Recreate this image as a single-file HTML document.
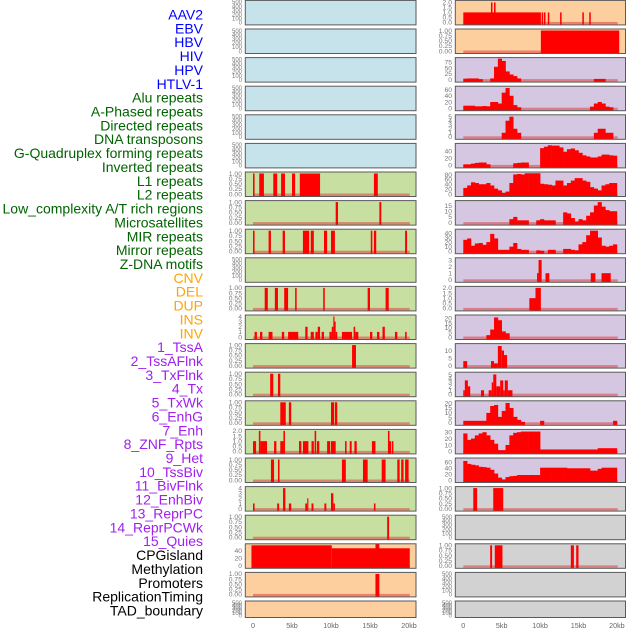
<!DOCTYPE html>
<html><head><meta charset="utf-8">
<style>
html,body{margin:0;padding:0;background:#fff;}
svg{display:block;font-family:"Liberation Sans",sans-serif;}
</style></head>
<body>
<svg id="chart" width="630" height="630" viewBox="0 0 630 630" xmlns="http://www.w3.org/2000/svg"></svg>
<script>
const trackLabels = ["AAV2","EBV","HBV","HIV","HPV","HTLV-1","Alu repeats","A-Phased repeats","Directed repeats","DNA transposons","G-Quadruplex forming repeats","Inverted repeats","L1 repeats","L2 repeats","Low_complexity A/T rich regions","Microsatellites","MIR repeats","Mirror repeats","Z-DNA motifs","CNV","DEL","DUP","INS","INV","1_TssA","2_TssAFlnk","3_TxFlnk","4_Tx","5_TxWk","6_EnhG","7_Enh","8_ZNF_Rpts","9_Het","10_TssBiv","11_BivFlnk","12_EnhBiv","13_ReprPC","14_ReprPCWk","15_Quies","CPGisland","Methylation","Promoters","ReplicationTiming","TAD_boundary"];
const labelGroupSizes = [6,13,5,15,5];
const xTickValues = [0,5,10,15,20];
const xTickLabels = ["0","5kb","10kb","15kb","20kb"];
const emptyTicks = [0,100,200,300,400,500];

const leftRow6 = [[0,0.2,1],[0.8,1.4,1],[2.6,3.1,1],[3.6,4.1,1],[5.0,5.4,1],[6.0,8.6,1],[15.5,16.0,1]];
const leftRow7 = [[10.6,10.9,1],[16.2,16.45,1]];
const leftRow8 = [[0,0.2,1],[2.0,2.3,1],[3.8,4.1,1],[6.4,7.2,1],[7.4,7.8,1],[9.1,9.5,1],[10.0,10.5,1],[15.1,15.3,1],[15.5,15.8,1],[19.5,19.75,1]];
const leftRow10 = [[1.5,1.9,1],[2.8,3.2,1],[4.0,4.5,1],[5.4,5.6,1],[9.0,9.2,1],[14.7,15.0,1],[17.0,17.4,1]];
const leftRow11 = [[0.2,0.5,1],[0.9,1.2,1],[2.0,2.5,1],[3.7,4.0,1],[4.5,5.8,1],[6.7,7.0,2],[7.4,7.8,1],[8.0,8.3,1],[8.3,8.6,2],[8.8,9.1,1],[9.8,10.1,1],[10.1,10.3,2],[10.3,10.45,4],[10.45,10.6,3],[10.6,10.8,1],[11.4,12.7,1],[12.9,13.1,2],[13.1,13.5,1],[15.0,15.3,1],[15.9,16.2,1],[16.6,16.9,2],[18.2,18.5,1],[19.5,19.7,1]];
const leftRow12 = [[12.7,13.2,1]];
const leftRow13 = [[2.2,2.6,1],[3.2,3.5,1]];
const leftRow14 = [[3.5,4.2,1],[4.6,4.9,1],[10.0,10.4,1],[10.5,10.8,1]];
const leftRow15 = [[0,0.4,1],[0.75,0.95,2],[0.95,1.8,1],[2.7,3.0,1],[3.5,3.9,1],[3.9,4.1,2],[5.9,6.2,1],[6.4,7.1,1],[7.5,7.8,1],[7.9,8.1,2],[8.2,8.5,1],[9.5,9.9,1],[10.0,10.6,1],[11.8,12.0,1],[12.4,12.65,1],[13.0,13.3,1],[15.25,15.7,1],[17.3,17.5,2],[17.5,17.7,1],[17.8,18.0,1]];
const leftRow16 = [[2.3,2.7,1],[3.2,3.4,1],[11.4,11.9,1],[14.1,14.7,1],[16.5,17.0,1],[18.5,18.8,1],[19.0,19.3,1],[19.5,19.95,1]];
const leftRow17 = [[0,0.2,1],[3.1,3.35,1],[3.85,4.15,4],[4.6,4.9,1],[6.7,6.95,1],[6.95,7.1,2],[7.5,7.75,1],[9.15,9.4,1],[10.0,10.3,3],[10.3,10.5,1],[15.5,15.7,1]];
const leftRow18 = [[17.2,17.45,1]];
const leftRow19 = [[-0.2,10.1,55],[10.1,20.1,47],[15.7,16.2,60]];
const leftRow20 = [[15.7,16.2,1]];

const rightRow0 = [[0,10.1,1],[3.6,3.8,2],[4.0,4.2,2],[10.2,10.4,1],[10.5,10.7,1],[11.0,11.2,1],[12.6,12.8,1],[15.5,15.7,1],[16.4,16.6,1]];
const rightRow1 = [[10.1,20.3,1]];
const rightRow2 = [4,5,5,5,2,0,0,5,55,90,80,35,22,15,5,0,0,0,0,0,0,0,0,0,0,0,0,0,0,0,0,0,0,0,3,3,3,0,0,0];
const rightRow3 = [8,8,8,6,6,7,6,20,20,15,50,65,40,10,3,0,0,0,0,0,0,0,0,0,0,0,0,0,0,0,0,0,0,5,15,20,15,5,3,0];
const rightRow4 = [0,0,0,0,0,0,0,0,0,0,1,4,5,2,1,0,0,0,0,0,0,0,0,0,0,0,0,0,0,0,0,0,0,0,1,2,2,1,1,0];
const rightRow5 = [3,3,5,7,8,8,3,0,0,0,0,0,0,6,7,8,8,0,0,0,48,52,56,55,55,50,38,45,47,42,35,28,25,22,22,25,30,30,28,27];
const rightRow6 = [25,35,48,45,40,40,45,35,22,15,5,10,45,80,82,80,85,85,85,85,42,40,38,35,55,55,35,45,55,65,65,55,50,28,22,15,35,40,45,45];
const rightRow7 = [0,0,0,0,0,0,0,0,0,0,0,0,3,5,2,2,2,0,0,2,3,2,2,2,0,0,9,8,4,1,3,2,6,9,15,18,14,11,10,10];
const rightRow8 = [25,28,12,17,18,14,20,38,28,3,3,3,10,18,5,3,3,0,0,2,1,0,3,3,0,0,5,5,3,2,15,20,35,45,45,30,12,10,12,15];
const rightRow9 = [[9.6,9.8,1],[9.8,10.2,3],[10.7,11.2,1],[16.6,17.2,1],[18.0,19.2,1]];
const rightRow10 = [[8.6,9.4,1],[9.4,10.1,2]];
const rightRow11 = [0,0,0,0,0,0,2,8,21,18,6,4,0,0,0,0,0,0,0,0,0,0,0,0,0,0,0,0,0,0,0,0,0,0,0,0,0,0,0,0];
const rightRow12 = [[0,0.5,3],[3.6,4.0,3],[4.0,4.5,1.5],[4.5,5.0,13],[5.0,5.3,10],[5.3,5.7,7]];
const rightRow13 = [[0,0.2,1],[0.2,0.6,3.5],[0.6,0.9,2],[2.3,2.7,1],[3.3,3.7,1],[3.7,3.9,3],[3.9,4.3,5],[4.3,4.8,2],[4.8,5.2,3.5],[5.2,5.4,1],[5.4,5.8,3.5],[5.8,6.4,1]];
const rightRow14 = [2,2,2,2,2,2,10,17,18,6,12,20,15,6,3,1,0,0,0,0,2,0,0,0,0,0,0,0,0,0,0,0,0,0,0,0,0,0,0,2];
const rightRow15 = [28,18,20,25,28,30,25,18,12,2,2,10,25,29,30,31,31,31,31,31,3,3,3,3,3,3,3,3,3,3,3,3,3,3,3,5,5,5,5,5];
const rightRow16 = [65,55,52,50,45,44,42,35,22,8,2,10,13,14,17,17,17,17,17,17,42,42,42,42,42,42,42,40,40,40,40,40,40,32,32,38,42,42,42,42];
const rightRow17 = [[1.3,1.8,1],[3.9,5.2,1]];
const rightRow19 = [[3.5,3.75,1],[4.1,5.1,1],[14.0,14.4,1],[14.7,15.0,1]];

const svg = document.getElementById('chart');
const NS = 'http://www.w3.org/2000/svg';
function mk(tag, attrs, parent){const e=document.createElementNS(NS,tag);for(const k in attrs)e.setAttribute(k,attrs[k]);(parent||svg).appendChild(e);return e;}

const BG = {blue:'#c6e3ec', green:'#c7e0a2', peach:'#fecf9e', lav:'#d5c6e2', grey:'#d2d2d2'};
const cols = [
  {x0:245.3, x1:416, kb0:253, kpx:7.8, tickX:242},
  {x0:455.3, x1:625.5, kb0:463.3, kpx:7.68, tickX:452}
];
function rowTop(i){return 0.4+28.6*i;}
function rowH(i){return i===21?16.5:24.5;}

const fmt2 = v=>v.toFixed(2), fmt1=v=>v.toFixed(1), fmt0=v=>String(v);
const T01 = {ticks:[0,0.25,0.5,0.75,1], f:fmt2, vmax:1};
const T02 = {ticks:[0,0.5,1,1.5,2], f:fmt1, vmax:2};

const panels = [];
for(let r=0;r<6;r++) panels.push({c:0,r,bg:'blue'});
panels.push({c:0,r:6,bg:'green',seg:leftRow6,...T01});
panels.push({c:0,r:7,bg:'green',seg:leftRow7,...T01});
panels.push({c:0,r:8,bg:'green',seg:leftRow8,...T01});
panels.push({c:0,r:9,bg:'green'});
panels.push({c:0,r:10,bg:'green',seg:leftRow10,...T01});
panels.push({c:0,r:11,bg:'green',seg:leftRow11,ticks:[0,1,2,3,4],f:fmt0,vmax:4});
panels.push({c:0,r:12,bg:'green',seg:leftRow12,...T01});
panels.push({c:0,r:13,bg:'green',seg:leftRow13,...T01});
panels.push({c:0,r:14,bg:'green',seg:leftRow14,...T01});
panels.push({c:0,r:15,bg:'green',seg:leftRow15,...T02});
panels.push({c:0,r:16,bg:'green',seg:leftRow16,...T01});
panels.push({c:0,r:17,bg:'green',seg:leftRow17,ticks:[0,1,2,3,4],f:fmt0,vmax:4});
panels.push({c:0,r:18,bg:'green',seg:leftRow18,...T01});
panels.push({c:0,r:19,bg:'peach',seg:leftRow19,ticks:[0,20,40],f:fmt0,vmax:55});
panels.push({c:0,r:20,bg:'peach',seg:leftRow20,...T01});
panels.push({c:0,r:21,bg:'peach'});

panels.push({c:1,r:0,bg:'peach',seg:rightRow0,ticks:[0,0.5,1,1.5,2],f:fmt1,vmax:2.05});
panels.push({c:1,r:1,bg:'peach',seg:rightRow1,...T01});
panels.push({c:1,r:2,bg:'lav',bins:rightRow2,ticks:[0,25,50,75],f:fmt0,vmax:88});
panels.push({c:1,r:3,bg:'lav',bins:rightRow3,ticks:[0,20,40,60],f:fmt0,vmax:66});
panels.push({c:1,r:4,bg:'lav',bins:rightRow4,ticks:[0,1,2,3,4,5],f:fmt0,vmax:5.1});
panels.push({c:1,r:5,bg:'lav',bins:rightRow5,ticks:[0,20,40],f:fmt0,vmax:57});
panels.push({c:1,r:6,bg:'lav',bins:rightRow6,ticks:[0,20,40,60,80],f:fmt0,vmax:84});
panels.push({c:1,r:7,bg:'lav',bins:rightRow7,ticks:[0,5,10,15],f:fmt0,vmax:18});
panels.push({c:1,r:8,bg:'lav',bins:rightRow8,ticks:[0,10,20,30,40],f:fmt0,vmax:45});
panels.push({c:1,r:9,bg:'lav',seg:rightRow9,ticks:[0,1,2,3],f:fmt0,vmax:3.1});
panels.push({c:1,r:10,bg:'lav',seg:rightRow10,...T02});
panels.push({c:1,r:11,bg:'lav',bins:rightRow11,ticks:[0,5,10,15,20],f:fmt0,vmax:22});
panels.push({c:1,r:12,bg:'lav',seg:rightRow12,ticks:[0,5,10],f:fmt0,vmax:13.6});
panels.push({c:1,r:13,bg:'lav',seg:rightRow13,ticks:[0,1,2,3,4,5],f:fmt0,vmax:5.2});
panels.push({c:1,r:14,bg:'lav',bins:rightRow14,ticks:[0,5,10,15,20],f:fmt0,vmax:20.7});
panels.push({c:1,r:15,bg:'lav',bins:rightRow15,ticks:[0,10,20,30],f:fmt0,vmax:32});
panels.push({c:1,r:16,bg:'lav',bins:rightRow16,ticks:[0,20,40,60],f:fmt0,vmax:70});
panels.push({c:1,r:17,bg:'grey',seg:rightRow17,...T01});
panels.push({c:1,r:18,bg:'grey'});
panels.push({c:1,r:19,bg:'grey',seg:rightRow19,...T01});
panels.push({c:1,r:20,bg:'grey'});
panels.push({c:1,r:21,bg:'grey'});

let clipId=0;
panels.forEach(p=>{
  const C=cols[p.c], top=rowTop(p.r), h=rowH(p.r), bot=top+h;
  const g=mk('g',{});
  
  
  const bgR=mk('rect',{x:C.x0,y:top,width:C.x1-C.x0,height:h,fill:BG[p.bg]},g);
  
  
  const xs=kb=>C.kb0+kb*C.kpx;
  const hasData = p.seg||p.bins;
  const y0=bot-2.5, y1=top+1.5;
  const ys = hasData ? (v=>y0-(v/p.vmax)*(y0-y1)) : (v=>y0-(v/500)*(y0-y1));
  const cid='clp'+(clipId++);
  const cp=mk('clipPath',{id:cid},g);
  mk('rect',{x:C.x0,y:top,width:C.x1-C.x0,height:h},cp);
  const dg=mk('g',{'clip-path':'url(#'+cid+')'},g);
  if(hasData){
    const base=mk('rect',{x:xs(0),y:bot-3,width:xs(20.1)-xs(0),height:2.5,fill:'#e04040','fill-opacity':0.55},dg);
    
    
  }
  if(p.seg){
    p.seg.forEach(s=>{
      const yv=ys(s[2]);
      const b=mk('rect',{x:xs(s[0]),y:yv,width:Math.max(1,xs(s[1])-xs(s[0])),height:bot-yv,fill:'#ff0000'},dg);
      
      
    });
  }
  if(p.bins){
    p.bins.forEach((v,i)=>{
      if(v<=0) return;
      const yv=ys(v);
      const b=mk('rect',{x:xs(i*0.5),y:yv,width:xs(0.5)-xs(0)+0.3,height:bot-yv,fill:'#ff0000'},dg);
      
      
    });
  }
  const fr=mk('rect',{x:C.x0,y:top,width:C.x1-C.x0,height:h,fill:'none',stroke:'#5a5a5a','stroke-width':1},g);
  
  
  const tv = hasData? p.ticks : emptyTicks;
  const tf = hasData? p.f : fmt0;
  tv.forEach(v=>{
    const t=mk('text',{x:C.tickX,y:ys(v)+2.3,'font-size':hasData?6.8:6,'text-anchor':'end',fill:'#777'},g);
    t.textContent=tf(v);
    
    
  });
});

cols.forEach((C,ci)=>{
  xTickValues.forEach((v,i)=>{
    const t=mk('text',{x:C.kb0+v*C.kpx,y:628,'font-size':7.2,'text-anchor':'middle',fill:'#666'});
    t.textContent=xTickLabels[i];
    
    
  });
});

const groupColors=['#0000ff','#006400','#ffa500','#a020f0','#000000'];
let gi=0, cnt=0;
trackLabels.forEach((lab,i)=>{
  if(cnt>=labelGroupSizes[gi]){gi++;cnt=0;}
  cnt++;
  const t=mk('text',{x:203,y:19.5+13.86*i,'font-size':14,'text-anchor':'end',fill:groupColors[gi]});
  t.textContent=lab;
  
  
});
</script>
</body></html>
